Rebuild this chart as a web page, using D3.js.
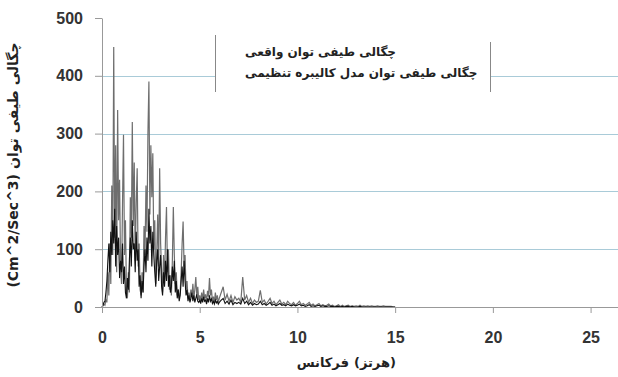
<!DOCTYPE html>
<html>
<head>
<meta charset="utf-8">
<script src="https://cdn.jsdelivr.net/npm/d3@7"></script>
<style>
  body { margin: 0; background: #fff; }
  svg { display: block; }
</style>
</head>
<body>
<svg id="chart" width="618" height="377"></svg>
<script>
// frequency grid: 0.05 Hz steps up to 6 Hz, then 0.1 Hz steps up to 15 Hz
const freqFine = d3.range(0, 120).map(i => i * 0.05);
const freqCoarse = d3.range(0, 91).map(i => 6 + i * 0.1);
const freqs = freqFine.concat(freqCoarse);

// measured spectrum (grey)
const realPsd = [
  0, 2, 5, 3, 12, 8, 60, 20, 110, 40, 210, 90, 450, 120, 280, 60, 341, 150, 220, 70,
  40, 180, 298, 90, 150, 30, 15, 60, 25, 190, 120, 320, 140, 250, 80, 180, 240, 70, 110, 30,
  20, 60, 25, 140, 90, 210, 130, 300, 390, 160, 280, 190, 266, 100, 150, 40, 90, 160, 70, 240,
  110, 60, 25, 90, 40, 120, 173, 60, 100, 30, 55, 20, 80, 173, 90, 40, 60, 20, 30, 15,
  25, 60, 110, 148, 70, 90, 30, 45, 15, 25, 12, 30, 18, 40, 15, 30, 52, 20, 35, 12,
  20, 10, 25, 12, 30, 15, 22, 8, 28, 18, 50, 20, 30, 10, 18, 8, 25, 12, 20, 8,
  15, 25, 35, 12, 22, 10, 20, 8, 18, 12,
  15, 8, 52, 12, 20, 8, 15, 6, 12, 8,
  10, 29, 8, 12, 5, 10, 15, 6, 10, 4,
  8, 12, 5, 8, 4, 10, 6, 4, 8, 3,
  6, 10, 4, 6, 3, 5, 8, 3, 5, 2,
  4, 6, 2, 4, 2, 3, 5, 2, 3, 1,
  2, 4, 1, 3, 1, 2, 3, 1, 2, 1,
  2, 1, 3, 1, 2, 1, 2, 1, 2, 1,
  1, 2, 1, 1, 2, 1, 1, 1, 1, 0, 0
];

// calibrated model spectrum (black)
const modelPsd = [
  0, 3, 8, 10, 25, 45, 80, 110, 60, 130, 90, 150, 110, 170, 70, 140, 90, 120, 50, 80,
  60, 110, 40, 70, 25, 15, 50, 30, 80, 120, 70, 150, 100, 110, 60, 130, 80, 100, 35, 55,
  15, 45, 25, 70, 100, 60, 120, 80, 170, 110, 140, 70, 130, 90, 60, 35, 80, 100, 45, 70,
  90, 35, 20, 60, 35, 80, 45, 100, 35, 55, 25, 35, 70, 45, 80, 25, 45, 15, 30, 10,
  20, 45, 70, 35, 80, 45, 20, 30, 10, 20, 8, 15, 25, 10, 20, 8, 15, 22, 10, 8,
  12, 6, 15, 8, 18, 10, 12, 5, 15, 8, 20, 10, 14, 6, 10, 5, 12, 7, 10, 5,
  8, 12, 15, 6, 10, 5, 12, 4, 8, 6,
  8, 5, 15, 6, 10, 4, 8, 3, 6, 4,
  5, 10, 4, 6, 3, 5, 8, 3, 5, 2,
  4, 6, 3, 4, 2, 5, 3, 2, 4, 2,
  3, 5, 2, 3, 1, 2, 4, 1, 2, 1,
  2, 3, 1, 2, 1, 1, 2, 1, 1, 0,
  1, 1, 0, 1, 0, 1, 1, 0, 1, 0,
  0, 0, 1, 0, 0, 0, 0, 0, 0, 0,
  0, 0, 0, 0, 0, 0, 0, 0, 0, 0, 0
];

const xTicks = [0, 5, 10, 15, 20, 25];
const yTicks = [0, 100, 200, 300, 400, 500];
const gridTicks = [100, 200, 300, 400];
const legendLabels = ['چگالی طیفی توان واقعی', 'چگالی طیفی توان مدل کالیبره تنظیمی'];
// axis titles split into single-direction pieces, listed in visual order (left/bottom first)
const xLabelParts = ['فرکانس', '(هرتز)'];
const yLabelParts = ['(Cm^2/Sec^3)', 'چگالی طیفی توان'];

const svg = d3.select('#chart');
const margin = { top: 18, right: 2, bottom: 70, left: 102 };
const width = +svg.attr('width');
const height = +svg.attr('height');

const x = d3.scaleLinear()
  .domain([0, 26.3])
  .range([margin.left, width - margin.right]);

const y = d3.scaleLinear()
  .domain([0, 500])
  .range([height - margin.bottom, margin.top]);

svg.append('rect').attr('width', width).attr('height', height).attr('fill', '#fff');

// gridlines
svg.append('g')
  .selectAll('line')
  .data(gridTicks)
  .enter()
  .append('line')
  .attr('x1', x(0))
  .attr('x2', width)
  .attr('y1', d => Math.round(y(d)) + 0.5)
  .attr('y2', d => Math.round(y(d)) + 0.5)
  .attr('stroke', '#a9cbd8')
  .attr('stroke-width', 1);

const pts = freqs.map((f, i) => ({ f, real: realPsd[i], model: modelPsd[i] }));

svg.append('path')
  .datum(pts)
  .attr('fill', 'none')
  .attr('stroke', '#6e6e6e')
  .attr('stroke-width', 1.2)
  .attr('d', d3.line().x(d => x(d.f)).y(d => y(d.real)));

svg.append('path')
  .datum(pts)
  .attr('fill', 'none')
  .attr('stroke', '#111')
  .attr('stroke-width', 1.1)
  .attr('d', d3.line().x(d => x(d.f)).y(d => y(d.model)));

// axes
const xAxis = svg.append('g')
  .attr('transform', `translate(0,${y(0)})`)
  .call(d3.axisBottom(x).tickValues(xTicks).tickSize(6).tickPadding(19).tickSizeOuter(0));

const yAxis = svg.append('g')
  .attr('transform', `translate(${x(0)},0)`)
  .call(d3.axisLeft(y).tickValues(yTicks).tickSize(7).tickPadding(12).tickSizeOuter(0));

[xAxis, yAxis].forEach(g => {
  g.select('.domain').attr('stroke', '#999');
  g.selectAll('.tick line').attr('stroke', '#999');
  g.selectAll('text')
    .attr('fill', '#333')
    .style('font-family', '"Liberation Sans", Arial, sans-serif')
    .style('font-size', '16px')
    .style('font-weight', 'bold');
});
xAxis.select('.domain').attr('d', `M${x(0)},0.5H${width}`);

// legend
const legend = svg.append('g');
legend.append('rect')
  .attr('x', 215).attr('y', 35)
  .attr('width', 275).attr('height', 57)
  .attr('fill', '#fff');
legend.append('line')
  .attr('x1', 215.5).attr('x2', 215.5).attr('y1', 35).attr('y2', 92)
  .attr('stroke', '#888');
legend.append('line')
  .attr('x1', 490.5).attr('x2', 490.5).attr('y1', 42).attr('y2', 92)
  .attr('stroke', '#888');
legend.selectAll('text')
  .data(legendLabels)
  .enter()
  .append('text')
  .attr('x', 245)
  .attr('y', (d, i) => 56 + i * 21)
  .attr('fill', '#222')
  .style('font-family', '"DejaVu Sans", sans-serif')
  .style('font-size', '12px')
  .style('font-weight', 'bold')
  .text(d => d);

// axis titles: each piece centred on its own slot so bidi/anchor quirks don't matter
function drawTitle(g, parts, size, gap) {
  const texts = parts.map(p => g.append('text')
    .attr('text-anchor', 'middle')
    .attr('fill', '#222')
    .style('font-family', '"DejaVu Sans", sans-serif')
    .style('font-size', size + 'px')
    .style('font-weight', 'bold')
    .text(p));
  const widths = texts.map(t => t.node().getComputedTextLength());
  const total = d3.sum(widths) + gap * (parts.length - 1);
  let pos = -total / 2;
  texts.forEach((t, i) => {
    t.attr('x', pos + widths[i] / 2);
    pos += widths[i] + gap;
  });
}

drawTitle(svg.append('g').attr('transform', `translate(${x(12.5)},367)`), xLabelParts, 13, 5);
drawTitle(svg.append('g').attr('transform', 'translate(18,165) rotate(-90)'), yLabelParts, 14, 5);
</script>
</body>
</html>
